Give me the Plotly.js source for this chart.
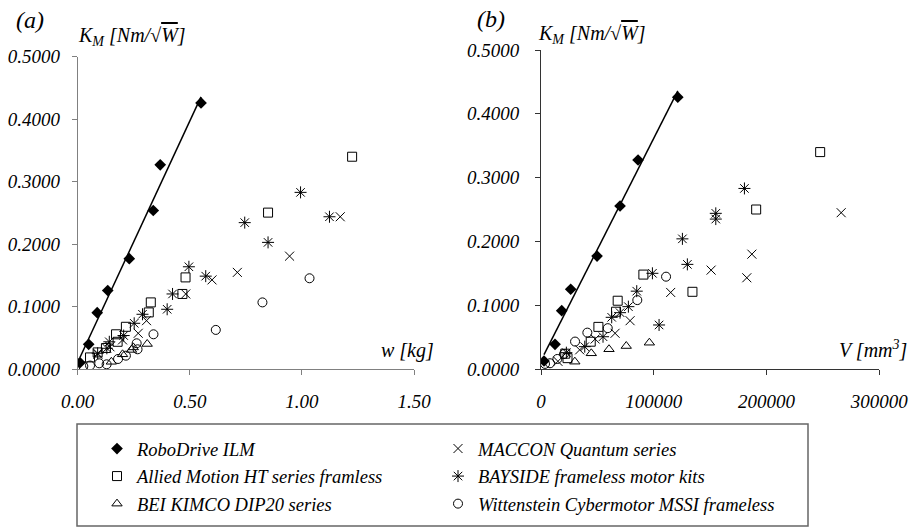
<!DOCTYPE html>
<html>
<head>
<meta charset="utf-8">
<script src="https://cdn.plot.ly/plotly-3.0.1.min.js"></script>
<style>html,body{margin:0;padding:0;background:#fff;}#chart{width:913px;height:530px;}</style>
</head>
<body>
<div id="chart"></div>
<script>
// ---- Data ----
// Panel (a): K_M vs weight w [kg]; Panel (b): K_M vs volume V [mm^3]
const seriesNames = ["RoboDrive ILM", "Allied Motion HT series framless", "BEI KIMCO DIP20 series",
                     "MACCON Quantum series", "BAYSIDE frameless motor kits", "Wittenstein Cybermotor MSSI frameless"];

const robo_w  = [0.01, 0.049, 0.087, 0.134, 0.23, 0.337, 0.368, 0.55];
const robo_Ka = [0.0106, 0.040, 0.0906, 0.126, 0.177, 0.254, 0.327, 0.426];
const robo_V  = [2660, 12420, 18370, 26350, 49700, 70100, 86070, 121300];
const robo_Kb = [0.0125, 0.0387, 0.0914, 0.125, 0.177, 0.2555, 0.3276, 0.426];

const allied_w  = [0.055, 0.089, 0.126, 0.171, 0.178, 0.215, 0.317, 0.326, 0.467, 0.481, 0.849, 1.224];
const allied_Ka = [0.019, 0.027, 0.034, 0.056, 0.044, 0.068, 0.091, 0.107, 0.1205, 0.147, 0.2506, 0.340];
const allied_V  = [21500, 23500, 44100, 50900, 66550, 68000, 90800, 134300, 190800, 247560];
const allied_Kb = [0.024, 0.017, 0.0428, 0.066, 0.0898, 0.107, 0.148, 0.121, 0.250, 0.340];

const bei_w  = [0.15, 0.20, 0.24, 0.248, 0.31];
const bei_Ka = [0.012, 0.024, 0.031, 0.035, 0.0405];
const bei_V  = [30000, 44600, 60300, 75600, 96100];
const bei_Kb = [0.0115, 0.0246, 0.031, 0.036, 0.0412];

const maccon_w  = [0.09, 0.144, 0.20, 0.27, 0.307, 0.482, 0.599, 0.712, 0.945, 1.171];
const maccon_Ka = [0.024, 0.036, 0.047, 0.0576, 0.0778, 0.1205, 0.143, 0.155, 0.181, 0.244];
const maccon_V  = [15000, 34300, 48000, 65700, 79000, 115000, 150850, 182500, 187000, 266200];
const maccon_Kb = [0.012, 0.030, 0.047, 0.056, 0.0757, 0.120, 0.155, 0.143, 0.180, 0.245];

const bayside_w  = [0.089, 0.13, 0.141, 0.205, 0.252, 0.289, 0.399, 0.423, 0.496, 0.571, 0.745, 0.849, 0.994, 1.123];
const bayside_Ka = [0.0256, 0.0336, 0.044, 0.054, 0.0736, 0.088, 0.096, 0.1205, 0.164, 0.149, 0.2346, 0.203, 0.283, 0.244];
const bayside_V  = [22500, 38800, 55000, 62700, 70100, 77500, 84900, 98800, 104700, 125400, 129800, 155000, 155000, 180400];
const bayside_Kb = [0.0256, 0.035, 0.0506, 0.081, 0.0883, 0.0977, 0.122, 0.150, 0.069, 0.204, 0.164, 0.244, 0.235, 0.283];

const witt_w  = [0.025, 0.055, 0.096, 0.129, 0.18, 0.215, 0.263, 0.267, 0.338, 0.616, 0.824, 1.034];
const witt_Ka = [0.005, 0.006, 0.0096, 0.008, 0.0165, 0.0218, 0.0416, 0.032, 0.056, 0.063, 0.107, 0.1456];
const witt_V  = [3550, 8000, 14500, 20400, 30200, 41100, 59200, 85400, 110900];
const witt_Kb = [0.008, 0.009, 0.0157, 0.0235, 0.043, 0.057, 0.064, 0.108, 0.1447];

const xTickA = [0, 0.5, 1.0, 1.5];
const xTickB = [0, 100000, 200000, 300000];
const yTicks = [0, 0.1, 0.2, 0.3, 0.4, 0.5];

// ---- Helpers ----
function linFit(xs, ys) {
  const n = xs.length;
  const mx = xs.reduce((a, b) => a + b, 0) / n;
  const my = ys.reduce((a, b) => a + b, 0) / n;
  let sxy = 0, sxx = 0;
  for (let i = 0; i < n; i++) { sxy += (xs[i] - mx) * (ys[i] - my); sxx += (xs[i] - mx) ** 2; }
  const m = sxy / sxx, c = my - m * mx;
  const x0 = Math.min(...xs), x1 = Math.max(...xs);
  return { x: [x0, x1], y: [m * x0 + c, m * x1 + c] };
}

const FONT = "Liberation Serif";
const styles = [
  { symbol: "diamond", size: 9, color: "#000", line: { width: 0 } },
  { symbol: "square-open", size: 9, color: "#000", line: { width: 1, color: "#000" } },
  { symbol: "triangle-up-open", size: 9, color: "#000", line: { width: 1, color: "#000" } },
  { symbol: "x-thin-open", size: 9, color: "#000", line: { width: 1, color: "#000" } },
  { symbol: "asterisk-open", size: 10, color: "#000", line: { width: 1, color: "#000" } },
  { symbol: "circle-open", size: 9, color: "#000", line: { width: 1, color: "#000" } }
];
const dataA = [[robo_w, robo_Ka], [allied_w, allied_Ka], [bei_w, bei_Ka], [maccon_w, maccon_Ka], [bayside_w, bayside_Ka], [witt_w, witt_Ka]];
const dataB = [[robo_V, robo_Kb], [allied_V, allied_Kb], [bei_V, bei_Kb], [maccon_V, maccon_Kb], [bayside_V, bayside_Kb], [witt_V, witt_Kb]];

const traces = [];
const fa = linFit(robo_w, robo_Ka), fb = linFit(robo_V, robo_Kb);
traces.push({ x: fa.x, y: fa.y, mode: "lines", line: { color: "#000", width: 1.5 }, showlegend: false, hoverinfo: "skip", xaxis: "x", yaxis: "y" });
traces.push({ x: fb.x, y: fb.y, mode: "lines", line: { color: "#000", width: 1.5 }, showlegend: false, hoverinfo: "skip", xaxis: "x2", yaxis: "y2" });

seriesNames.forEach((nm, i) => {
  const leg = i < 3 ? "legend" : "legend2";
  traces.push({ x: dataA[i][0], y: dataA[i][1], name: nm, mode: "markers", marker: styles[i],
    xaxis: "x", yaxis: "y", legend: leg, legendgroup: "g" + i, showlegend: true });
  traces.push({ x: dataB[i][0], y: dataB[i][1], name: nm, mode: "markers", marker: styles[i],
    xaxis: "x2", yaxis: "y2", legend: leg, legendgroup: "g" + i, showlegend: false });
});

const tickFont = { family: FONT, size: 19, style: "italic", color: "#000" };
function axis(extra) {
  return Object.assign({
    showline: true, linewidth: 1, ticks: "outside", ticklen: 5, tickwidth: 1,
    showgrid: false, zeroline: false, tickfont: tickFont, fixedrange: true
  }, extra);
}

const W = 913, H = 530;
const px = v => v / W, py = v => 1 - v / H;

const legendCommon = {
  orientation: "v", xanchor: "left", yanchor: "top", bgcolor: "rgba(0,0,0,0)", borderwidth: 0,
  font: { family: FONT, size: 18.5, style: "italic", color: "#000" }, tracegroupgap: 0.5, itemclick: false, itemdoubleclick: false
};

const titleFont = { family: FONT, size: 20, style: "italic", color: "#000" };
const kmText = "K<sub>M</sub> [Nm/√<span style='text-decoration:overline'>W</span>]";

const layout = {
  width: W, height: H,
  margin: { l: 0, r: 0, t: 0, b: 0 },
  font: { family: FONT, color: "#000" },
  paper_bgcolor: "#fff", plot_bgcolor: "rgba(0,0,0,0)",
  showlegend: true,
  xaxis: axis({ domain: [px(77.7), px(414)], range: [0, 1.5], tickvals: xTickA, tickformat: ".2f",
    linecolor: "#808080", tickcolor: "#808080", anchor: "y", ticklabelstandoff: 10 }),
  yaxis: axis({ domain: [py(369.3), py(56.7)], range: [0, 0.5], tickvals: yTicks, tickformat: ".4f",
    linecolor: "#808080", tickcolor: "#808080", anchor: "x", ticklabelstandoff: 8 }),
  xaxis2: axis({ domain: [px(541), px(879.3)], range: [0, 300000], tickvals: xTickB, tickformat: "d",
    linecolor: "#333", tickcolor: "#333", anchor: "y2", ticklabelstandoff: 10 }),
  yaxis2: axis({ domain: [py(369), py(50)], range: [0, 0.5], tickvals: yTicks, tickformat: ".4f",
    linecolor: "#333", tickcolor: "#333", anchor: "x2", ticklabelstandoff: 12 }),
  legend: Object.assign({ x: px(97), y: py(430) }, legendCommon),
  legend2: Object.assign({ x: px(438), y: py(430) }, legendCommon),
  shapes: [
    { type: "rect", xref: "paper", yref: "paper", x0: px(77), x1: px(808), y0: py(526), y1: py(424),
      line: { color: "#666", width: 1.5 }, fillcolor: "rgba(0,0,0,0)" }
  ],
  annotations: [
    { text: "(a)", xref: "paper", yref: "paper", x: px(14), y: py(20), xanchor: "left", yanchor: "middle",
      showarrow: false, font: { family: FONT, size: 24, style: "italic", color: "#000" } },
    { text: "(b)", xref: "paper", yref: "paper", x: px(475), y: py(19), xanchor: "left", yanchor: "middle",
      showarrow: false, font: { family: FONT, size: 24, style: "italic", color: "#000" } },
    { text: kmText, xref: "paper", yref: "paper", x: px(76), y: py(37), xanchor: "left", yanchor: "middle",
      showarrow: false, font: titleFont },
    { text: kmText, xref: "paper", yref: "paper", x: px(536), y: py(35), xanchor: "left", yanchor: "middle",
      showarrow: false, font: titleFont },
    { text: "w [kg]", xref: "paper", yref: "paper", x: px(436), y: py(350), xanchor: "right", yanchor: "middle",
      showarrow: false, font: titleFont },
    { text: "V [mm<sup>3</sup>]", xref: "paper", yref: "paper", x: px(909), y: py(349), xanchor: "right", yanchor: "middle",
      showarrow: false, font: titleFont }
  ]
};

Plotly.newPlot("chart", traces, layout, { displayModeBar: false, staticPlot: true });
</script>
</body>
</html>
